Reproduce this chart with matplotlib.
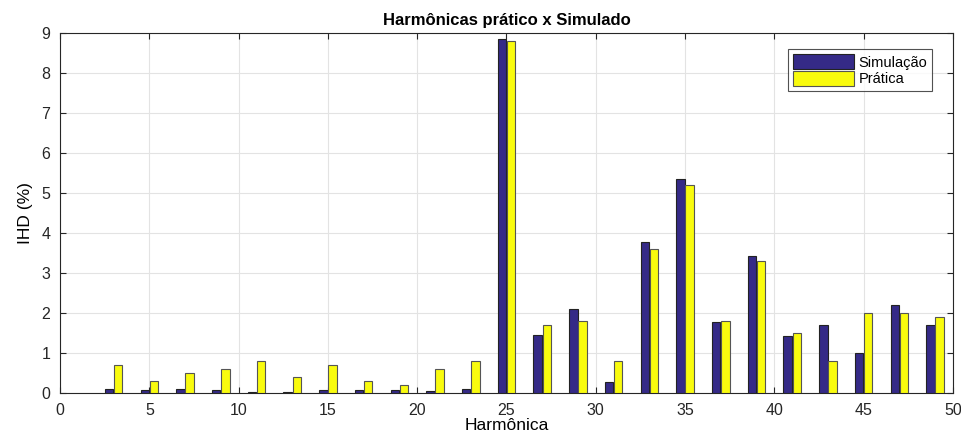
import matplotlib
matplotlib.use("Agg")
import matplotlib.pyplot as plt
import numpy as np

harmonics = [3, 5, 7, 9, 11, 13, 15, 17, 19, 21, 23, 25, 27, 29, 31, 33, 35, 37, 39, 41, 43, 45, 47, 49]
simulacao = [0.10, 0.08, 0.11, 0.07, 0.03, 0.02, 0.07, 0.08, 0.08, 0.05, 0.10, 8.85, 1.45, 2.10, 0.28, 3.78,
             5.35, 1.78, 3.42, 1.43, 1.70, 1.00, 2.20, 1.70]
pratica = [0.70, 0.30, 0.50, 0.60, 0.80, 0.40, 0.70, 0.30, 0.20, 0.60, 0.80, 8.80, 1.70, 1.80, 0.80, 3.60,
           5.20, 1.80, 3.30, 1.50, 0.80, 2.00, 2.00, 1.90]

plt.rcParams['font.family'] = ['Liberation Sans', 'DejaVu Sans']

fig = plt.figure(figsize=(9.62, 4.36), dpi=100)
ax = fig.add_axes([0.0624, 0.0986, 0.9282, 0.8257])

x = np.array(harmonics, dtype=float)
w = 0.47
ax.bar(x - 0.255, simulacao, width=w, color='#352a87', edgecolor='#222222', linewidth=0.8,
       label='Simulação', zorder=3)
ax.bar(x + 0.255, pratica, width=w, color='#f9fb0e', edgecolor='#555555', linewidth=0.8,
       label='Prática', zorder=3)

ax.set_xlim(0, 50)
ax.set_ylim(0, 9)
ax.set_xticks(range(0, 51, 5))
ax.set_yticks(range(0, 10))
ax.grid(True, color='#e3e3e3', linewidth=0.8, zorder=0)
ax.tick_params(direction='in', length=4, labelsize=11.5, colors='#262626', top=True, right=True)
ax.tick_params(axis='x', pad=7)
ax.tick_params(axis='y', pad=7)
for s in ax.spines.values():
    s.set_color('#262626')
    s.set_linewidth(0.8)

ax.set_title('Harmônicas prático x Simulado', fontsize=12, fontweight='bold', pad=6)
ax.set_xlabel('Harmônica', fontsize=12.5, labelpad=0.5)
ax.set_ylabel('IHD (%)', fontsize=12.5, labelpad=6)

leg = ax.legend(loc='upper right', bbox_to_anchor=(0.985, 0.975), fontsize=10.5, frameon=True,
                fancybox=False, edgecolor='#262626', handlelength=4.2, handleheight=1.15,
                borderpad=0.35, labelspacing=0.1, handletextpad=0.3)
leg.get_frame().set_linewidth(0.8)

fig.savefig('out.png', dpi=100)
